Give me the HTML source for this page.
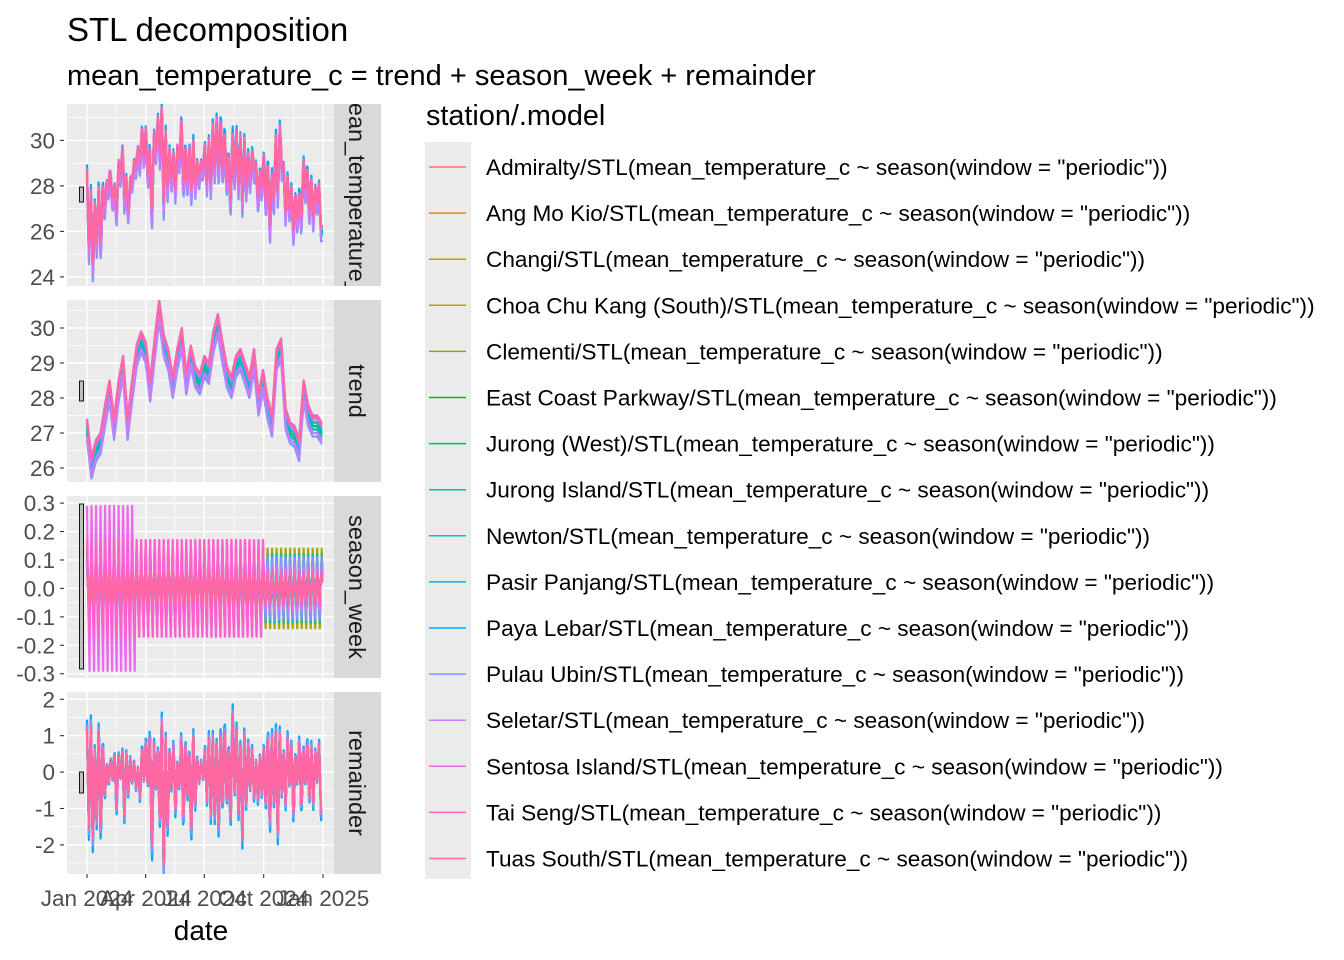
<!DOCTYPE html>
<html><head><meta charset="utf-8"><style>
body{margin:0;background:#fff;}
svg{display:block;font-family:"Liberation Sans",Arial,sans-serif;}
</style></head><body>
<svg id="c" width="1344" height="960" viewBox="0 0 1344 960">
<text x="67" y="41" font-size="33" fill="#000">STL decomposition</text>
<text x="67" y="85" font-size="29" fill="#000">mean_temperature_c = trend + season_week + remainder</text>
<g id="panels"></g>
<text x="201" y="940" font-size="28" text-anchor="middle" fill="#000">date</text>
<text x="426" y="125" font-size="28.8" fill="#000">station/.model</text>
<rect x="425" y="142" width="46" height="737" fill="#EBEBEB"/>
<g id="legend"></g>
</svg>
<script>
const stations=["Admiralty","Ang Mo Kio","Changi","Choa Chu Kang (South)","Clementi","East Coast Parkway","Jurong (West)","Jurong Island","Newton","Pasir Panjang","Paya Lebar","Pulau Ubin","Seletar","Sentosa Island","Tai Seng","Tuas South"];
const colors=["#F8766D","#E68613","#CD9600","#ABA300","#7CAE00","#0CB702","#00BE67","#00C19A","#00BFC4","#00B8E7","#00A9FF","#8494FF","#C77CFF","#ED68ED","#FF61CC","#FF68A1"];
// weekly trend (base), week 0..52
const trendWeekly=[27.2,26.1,26.6,26.8,27.6,28.3,27.2,28.3,29.0,27.2,28.3,29.3,29.7,29.4,28.3,29.5,30.6,29.6,29.2,28.4,29.2,29.8,28.5,29.3,28.7,28.5,29.0,28.8,29.7,30.2,29.4,28.7,28.4,29.0,29.2,28.8,28.4,29.2,27.9,28.6,27.8,27.3,29.2,29.5,27.5,27.1,27.0,26.6,28.3,27.6,27.3,27.3,27.1];
// remainder sampled every ~3 days (120 values)
const remainder=[1.2,-1.6,1.4,-2.0,0.8,-1.5,1.4,-1.9,1.0,-0.8,
0.3,-0.4,0.4,-0.3,0.6,-1.1,0.5,-0.2,0.6,-1.2,
0.5,-0.6,0.4,-0.3,0.3,-0.5,0.2,-0.8,0.8,-0.4,
1.0,-0.6,1.3,-2.4,0.9,-0.5,0.7,-1.4,1.5,-2.6,
0.9,-1.5,0.6,-0.5,0.8,-1.2,0.4,-0.5,1.1,-1.6,
1.0,-0.9,0.8,-1.9,1.2,-1.0,0.4,-0.3,0.3,-0.2,
0.6,-0.8,1.0,-1.3,1.1,-1.4,1.0,-1.8,1.4,-1.2,
1.5,-1.0,0.9,-1.6,1.8,-0.7,1.3,-1.2,0.8,-1.8,
1.0,-0.9,0.8,-0.5,0.7,-0.8,0.4,-0.9,0.6,-0.8,
0.9,-1.2,1.3,-1.7,1.2,-1.0,1.3,-1.8,1.1,-0.6,
0.5,-0.9,1.0,-0.4,0.8,-1.3,0.6,-0.4,1.0,-1.2,
0.8,-0.5,1.0,-0.9,0.9,-1.0,0.6,-0.3,0.8,-1.1];
const trendOffset=[0,-0.1,-0.2,0.1,-0.1,0.0,-0.1,0.1,-0.2,0.0,0.2,-0.4,-0.3,0.1,0.2,0.15];
const remScale=[1,1,1.1,1,1,1.05,1.1,1,1.1,1.15,1.2,1.1,1,0.95,1,1];
const seasonShape=[1,0.4,-0.2,-0.6,-1,0.1,0.3];
const seasonBreaks=[75,275];
const seasonAmp=[[0.1,0.1,0.08],[0.1,0.1,0.08],[0.12,0.12,0.1],[0.14,0.14,0.14],[0.1,0.1,0.08],[0.1,0.1,0.09],[0.12,0.12,0.11],[0.14,0.14,0.12],[0.1,0.1,0.1],[0.1,0.1,0.09],[0.1,0.1,0.1],[0.1,0.1,0.11],[0.1,0.1,0.08],[0.29,0.17,0.06],[0.17,0.17,0.06],[0.05,0.05,0.05]];
const xTicks=["Jan 2024","Apr 2024","Jul 2024","Oct 2024","Jan 2025"];
const xTickDays=[0,91,182,274,366];
const panelsDef=[
 {name:"mean_temperature_c",y0:104,y1:286,vmin:23.6,vmax:31.6,ticks:[24,26,28,30],labels:["24","26","28","30"],minor:[25,27,29,31],bar:[187,202]},
 {name:"trend",y0:300,y1:482,vmin:25.6,vmax:30.8,ticks:[26,27,28,29,30],labels:["26","27","28","29","30"],minor:[26.5,27.5,28.5,29.5,30.5],bar:[381,401]},
 {name:"season_week",y0:496,y1:678,vmin:-0.315,vmax:0.325,ticks:[-0.3,-0.2,-0.1,0,0.1,0.2,0.3],labels:["-0.3","-0.2","-0.1","0.0","0.1","0.2","0.3"],minor:[-0.25,-0.15,-0.05,0.05,0.15,0.25],bar:[504,669]},
 {name:"remainder",y0:692,y1:874,vmin:-2.8,vmax:2.2,ticks:[-2,-1,0,1,2],labels:["-2","-1","0","1","2"],minor:[-2.5,-1.5,-0.5,0.5,1.5],bar:[772,793]}];
const NS="http://www.w3.org/2000/svg";
const PX0=67,PX1=334,D0=87,D1=323;
function xs(d){return D0+d*(D1-D0)/366;}
function mk(t,a,p){const e=document.createElementNS(NS,t);for(const k in a)e.setAttribute(k,a[k]);(p||document.getElementById('panels')).appendChild(e);return e;}
function interp(arr,d,step){const f=d/step;const i=Math.min(Math.floor(f),arr.length-1);const j=Math.min(i+1,arr.length-1);const t=f-i;return arr[i]*(1-t)+arr[j]*t;}
function trendAt(s,d){return interp(trendWeekly,d,7)+trendOffset[s];}
function remAt(s,d){return interp(remainder,d,366/120)*remScale[s];}
function seasonAt(s,d){const p=d<seasonBreaks[0]?0:(d<seasonBreaks[1]?1:2);return seasonAmp[s][p]*seasonShape[d%7];}
const comps=[(s,d)=>trendAt(s,d)+seasonAt(s,d)+remAt(s,d),trendAt,seasonAt,remAt];
panelsDef.forEach((P,pi)=>{
 const g=mk('g',{});
 
 
 const ys=v=>P.y1-(v-P.vmin)/(P.vmax-P.vmin)*(P.y1-P.y0);
 mk('rect',{x:PX0,y:P.y0,width:PX1-PX0,height:P.y1-P.y0,fill:'#EBEBEB'},g);
 P.minor.forEach(v=>{if(v>P.vmin&&v<P.vmax)mk('line',{x1:PX0,x2:PX1,y1:ys(v),y2:ys(v),stroke:'#fff','stroke-width':0.7},g);});
 [45,136,228,320].forEach(d=>mk('line',{x1:xs(d),x2:xs(d),y1:P.y0,y2:P.y1,stroke:'#fff','stroke-width':0.7},g));
 P.ticks.forEach(v=>mk('line',{x1:PX0,x2:PX1,y1:ys(v),y2:ys(v),stroke:'#fff','stroke-width':1.4},g));
 xTickDays.forEach(d=>mk('line',{x1:xs(d),x2:xs(d),y1:P.y0,y2:P.y1,stroke:'#fff','stroke-width':1.4},g));
 const clipId='clip'+pi;
 const cp=mk('clipPath',{id:clipId},g);mk('rect',{x:PX0,y:P.y0,width:PX1-PX0,height:P.y1-P.y0},cp);
 const lg=mk('g',{'clip-path':'url(#'+clipId+')'},g);
 stations.forEach((st,s)=>{
  let dstr='';
  for(let d=0;d<366;d++){dstr+=(d?'L':'M')+xs(d).toFixed(2)+','+ys(comps[pi](s,d)).toFixed(2);}
  const path=mk('path',{d:dstr,fill:'none',stroke:colors[s],'stroke-width':2.2,'stroke-linejoin':'round'},lg);
  
  
 });
 const bar=mk('rect',{x:79.5,y:P.bar[0],width:4,height:P.bar[1]-P.bar[0],fill:'#BEBEBE',stroke:'#000','stroke-width':0.9},g);
 
 
 P.ticks.forEach((v,i)=>{
  mk('line',{x1:60,x2:64,y1:ys(v),y2:ys(v),stroke:'#333','stroke-width':1.1},g);
  const t=mk('text',{x:55,y:ys(v)+8,'font-size':22.5,'text-anchor':'end',fill:'#4D4D4D'},g);t.textContent=P.labels[i];
  
  
 });
 mk('rect',{x:334,y:P.y0,width:47,height:P.y1-P.y0,fill:'#D9D9D9'},g);
 const sc=mk('clipPath',{id:'sclip'+pi},g);mk('rect',{x:334,y:P.y0,width:47,height:P.y1-P.y0},sc);
 const cy=(P.y0+P.y1)/2;
 const wrap=mk('g',{'clip-path':'url(#sclip'+pi+')'},g);
 const st=mk('text',{x:0,y:0,'font-size':23.5,'text-anchor':'middle',fill:'#1A1A1A'},wrap);
 st.setAttribute('transform','translate(349,'+cy+') rotate(90)');
 st.textContent=P.name;
 
 
 if(pi===3){
  xTickDays.forEach((d,i)=>{
   mk('line',{x1:xs(d),x2:xs(d),y1:874,y2:878,stroke:'#333','stroke-width':1.1},g);
   const t=mk('text',{x:xs(d),y:906,'font-size':22.5,'text-anchor':'middle',fill:'#4D4D4D'},g);t.textContent=xTicks[i];
   
   
  });
 }
});
const lgRoot=document.getElementById('legend');
stations.forEach((s,i)=>{
 const y=167+i*46.1;
 const l=mk('line',{x1:429,x2:466,y1:y,y2:y,stroke:colors[i],'stroke-width':1.5},lgRoot);
 
 
 const t=mk('text',{x:486,y:y+8,'font-size':22.6,fill:'#000'},lgRoot);
 t.textContent=s+'/STL(mean_temperature_c ~ season(window = "periodic"))';
 
 
});
</script>
</body></html>
